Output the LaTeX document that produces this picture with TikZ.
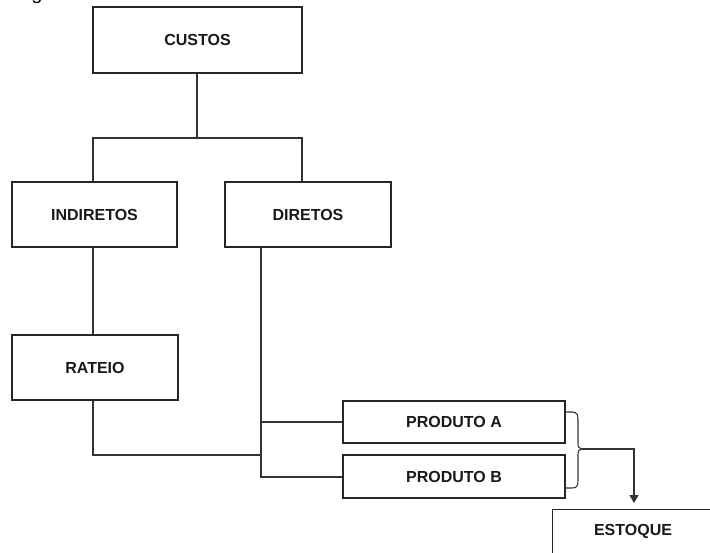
\documentclass[tikz,border=0pt]{standalone}
\usepackage{fontspec}
\setmainfont{Liberation Sans}
\usetikzlibrary{arrows.meta}
\begin{document}
\begin{tikzpicture}[x=1pt,y=-1pt,
  box/.style={draw=black!85, line width=1.1pt, fill=white, inner sep=0pt,
    font=\fontsize{16}{19}\selectfont\bfseries, text=black!90},
  conn/.style={draw=black!80, line width=1.1pt}]
\useasboundingbox (0,0) rectangle (710,552);
\clip (0,0) rectangle (710,552);
% clipped caption fragment at top left
\node[anchor=base, inner sep=0pt, font=\fontsize{20}{24}\selectfont] (frag) at (37,-0.5) {g};
% boxes
\node[box, minimum width=209pt, minimum height=66pt] (custos) at (197.5,40) {CUSTOS};
\node[box, minimum width=165pt, minimum height=65pt] (ind) at (94.5,214.5) {INDIRETOS};
\node[box, minimum width=166pt, minimum height=65pt] (dir) at (308,214.5) {DIRETOS};
\node[box, minimum width=166pt, minimum height=65pt] (rat) at (95,367.5) {RATEIO};
\node[box, minimum width=222pt, minimum height=42pt] (pa) at (454,422) {PRODUTO A};
\node[box, minimum width=222pt, minimum height=43pt] (pb) at (454,476.5) {PRODUTO B};
\node[box, minimum width=162pt, minimum height=44pt, anchor=north west] (est) at (552,509) {};
\node[inner sep=0pt, font=\fontsize{16}{19}\selectfont\bfseries, text=black!90] (estt) at (633,531) {ESTOQUE};
% coordinates
\coordinate (j1) at (197,138);
\coordinate (jl) at (93,138);
\coordinate (jr) at (302,138);
\coordinate (r1) at (93,455);
\coordinate (d1) at (261,455);
\coordinate (da) at (261,422);
\coordinate (db) at (261,477);
\coordinate (bt) at (582,449);
\coordinate (bx) at (634,449);
\coordinate (ae) at (634,503);
% connectors
\draw[conn] (custos.south -| j1) -- (j1);
\draw[conn] (ind.north -| jl) -- (jl) -- (jr) -- (dir.north -| jr);
\draw[conn] (ind.south -| jl) -- (rat.north -| jl);
\draw[conn] (rat.south -| r1) -- (r1) -- (d1);
\draw[conn] (dir.south -| da) -- (db) -- (pb.west |- db);
\draw[conn] (da) -- (pa.west |- da);
% brace
\draw[conn, line cap=round] (pa.east |- 0,412) -- (572,412) .. controls (578,412) and (578,416) .. (578,421)
  -- (578,443) .. controls (578,447) and (579,449) .. (bt)
  .. controls (579,449) and (578,451) .. (578,455)
  -- (578,480) .. controls (578,486) and (577,488) .. (572,488) -- (pb.east |- 0,488);
\draw[conn, -{Triangle[length=8pt,width=9pt]}] (bt) -- (bx) -- (ae);
\end{tikzpicture}
\end{document}
